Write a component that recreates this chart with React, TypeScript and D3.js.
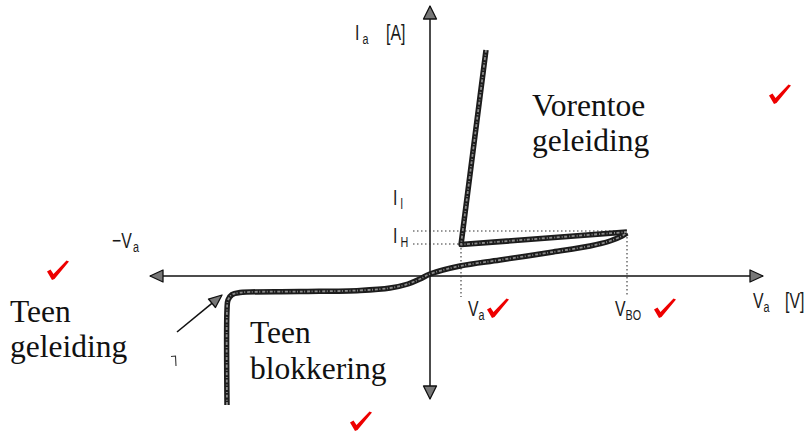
import * as d3 from 'd3'
import { useEffect, useRef } from 'react'

// thyristor characteristic, arbitrary V / A units
// off-state: reverse blocking up to breakdown, forward blocking up to breakover
const offStateV = [-10.15, -10.15, -10.1, -9.9, -9.5, -6.5, -3.5, -2.0, -1.1, -0.5, 0, 1.5, 3.5, 6.15, 8.0, 9.0, 9.6, 9.85]
const offStateI = [-6.45, -1.7, -1.2, -0.93, -0.83, -0.78, -0.72, -0.6, -0.4, -0.15, 0.1, 0.5, 0.8, 1.2, 1.5, 1.75, 2.0, 2.15]
// breakover -> holding point -> forward conduction
const onStateV = [9.85, 1.55, 2.8]
const onStateI = [2.2, 1.57, 11.3]

const V_BO = 9.85
const V_H = 1.55
const I_H = 1.6
const I_L = 2.25
const dropI = -1.05   // dotted drop lines end here
const guideV = -0.85  // dotted current lines start here

const vRange = [-14, 16.65]
const iRange = [-6.15, 13.5]

// pointer arrow to the reverse breakdown knee
const pointerFrom = [-12.65, -2.8]
const pointerTo = [-10.4, -0.95]

const W = 808, H = 432

// [x, y, main, sub, rest, restX]
const smallLabels: [number, number, string, string, string, number][] = [
  [355, 40, 'I', 'a', '[A]', 386],
  [393, 205, 'I', 'l', '', 0],
  [393, 243, 'I', 'H', '', 0],
  [112, 248, '\u2212V', 'a', '', 0],
  [468, 316, 'V', 'a', '', 0],
  [615, 316, 'V', 'BO', '', 0],
  [753, 308, 'V', 'a', '[V]', 785],
]

const bigLabels: [number, number, string][] = [
  [532, 116, 'Vorentoe'],
  [532, 151, 'geleiding'],
  [10, 322, 'Teen'],
  [10, 357, 'geleiding'],
  [250, 343, 'Teen'],
  [250, 379, 'blokkering'],
]

const checks = [[769, 84], [47, 260], [487, 298], [654, 298], [350, 411]]

function arrowHead(g, tx, ty, ang, len, half) {
  const c = Math.cos(ang), s = Math.sin(ang)
  const bx = tx - c * len, by = ty - s * len
  const pts = [[tx, ty], [bx - s * half, by + c * half], [bx + s * half, by - c * half]]
  g.append('polygon')
    .attr('points', pts.map(p => p.join(',')).join(' '))
    .attr('fill', '#777').attr('stroke', '#111').attr('stroke-width', 1.3)
    .attr('stroke-linejoin', 'round')
}

function drawChart(svgEl) {
  const svg = d3.select(svgEl)
  svg.selectAll('*').remove()

  const x = d3.scaleLinear().domain(vRange).range([150, 763])
  const y = d3.scaleLinear().domain(iRange).range([399, 6])

  const g = svg.append('g')

  // axes
  g.append('line').attr('x1', x(vRange[0])).attr('x2', x(vRange[1]))
    .attr('y1', y(0)).attr('y2', y(0)).attr('stroke', '#111').attr('stroke-width', 1.5)
  g.append('line').attr('x1', x(0)).attr('x2', x(0))
    .attr('y1', y(iRange[0])).attr('y2', y(iRange[1])).attr('stroke', '#111').attr('stroke-width', 1.5)
  arrowHead(g, x(vRange[1]), y(0), 0, 13, 6)
  arrowHead(g, x(vRange[0]), y(0), Math.PI, 13, 6)
  arrowHead(g, x(0), y(iRange[1]), -Math.PI / 2, 13, 6.5)
  arrowHead(g, x(0), y(iRange[0]), Math.PI / 2, 13, 6.5)

  // dotted guides
  const dotted = (x1, y1, x2, y2) => g.append('line')
    .attr('x1', x1).attr('y1', y1).attr('x2', x2).attr('y2', y2)
    .attr('stroke', '#333').attr('stroke-width', 1.1).attr('stroke-dasharray', '1.5,2.5')
  dotted(x(guideV), y(I_L), x(V_BO), y(I_L))
  dotted(x(guideV), y(I_H), x(V_H), y(I_H))
  dotted(x(V_H), y(I_H), x(V_H), y(dropI))
  dotted(x(V_BO), y(offStateI[offStateI.length - 1]), x(V_BO), y(dropI))

  // characteristic
  const offPts = offStateV.map((v, i) => [v, offStateI[i]])
  const onPts = onStateV.map((v, i) => [v, onStateI[i]])
  const smooth = d3.line().x(d => x(d[0])).y(d => y(d[1])).curve(d3.curveCatmullRom.alpha(0.5))
  const straight = d3.line().x(d => x(d[0])).y(d => y(d[1]))

  const paths = [smooth(offPts), straight(onPts)]
  paths.forEach(p => {
    g.append('path').attr('d', p).attr('fill', 'none').attr('stroke', '#1c1c1c')
      .attr('stroke-width', 5.5).attr('stroke-linejoin', 'round').attr('stroke-linecap', 'butt')
  })
  paths.forEach(p => {
    g.append('path').attr('d', p).attr('fill', 'none').attr('stroke', '#8a8a8a')
      .attr('stroke-width', 1.8).attr('stroke-dasharray', '3,1.5,1,2')
      .attr('stroke-linejoin', 'round')
  })

  // pointer arrow
  const px1 = x(pointerFrom[0]), py1 = y(pointerFrom[1])
  const px2 = x(pointerTo[0]), py2 = y(pointerTo[1])
  const ang = Math.atan2(py2 - py1, px2 - px1)
  g.append('line').attr('x1', px1).attr('y1', py1)
    .attr('x2', px2 - Math.cos(ang) * 8).attr('y2', py2 - Math.sin(ang) * 8)
    .attr('stroke', '#111').attr('stroke-width', 1.6)
  arrowHead(g, px2, py2, ang, 13, 5.5)

  // stray scan mark
  g.append('path').attr('d', 'M171,356.5 L175.5,356 L176,366')
    .attr('fill', 'none').attr('stroke', '#333').attr('stroke-width', 1.1)

  // small sans labels (condensed look)
  const putText = (tx, ty, str, size) => g.append('text')
    .attr('transform', `translate(${tx},${ty}) scale(0.72,1)`)
    .attr('font-family', 'Liberation Sans, Arial, sans-serif')
    .attr('font-size', size).attr('fill', '#1a1a1a')
    .text(str)
  smallLabels.forEach(([lx, ly, main, sub, rest, rx]) => {
    const mainW = main.length > 1 ? 21 : (main === 'I' ? 7.5 : 10.5)
    putText(lx, ly, main, 22)
    putText(lx + mainW, ly + 4, sub, 15)
    if (rest) putText(rx, ly, rest, 22)
  })

  // big serif labels
  bigLabels.forEach(([lx, ly, str]) => {
    g.append('text').attr('x', lx).attr('y', ly)
      .attr('font-family', 'Liberation Serif, Times New Roman, serif')
      .attr('font-size', 31.5).attr('fill', '#111')
      .text(str)
  })

  // red check marks
  checks.forEach(([cx, cy]) => {
    g.append('path')
      .attr('transform', `translate(${cx},${cy})`)
      .attr('d', 'M0,11.5 L3.5,9.5 L6.5,14 L19.5,0.5 L22,1.5 L7.5,19 L5,20 Z')
      .attr('fill', '#ee0000')
  })
}

function App() {
  const ref = useRef(null)
  useEffect(() => {
    drawChart(ref.current)
  })
  return (
    <svg ref={ref} width={W} height={H}
      style={{ position: 'absolute', left: 0, top: 0, background: '#fff', display: 'block' }} />
  )
}

export default App
